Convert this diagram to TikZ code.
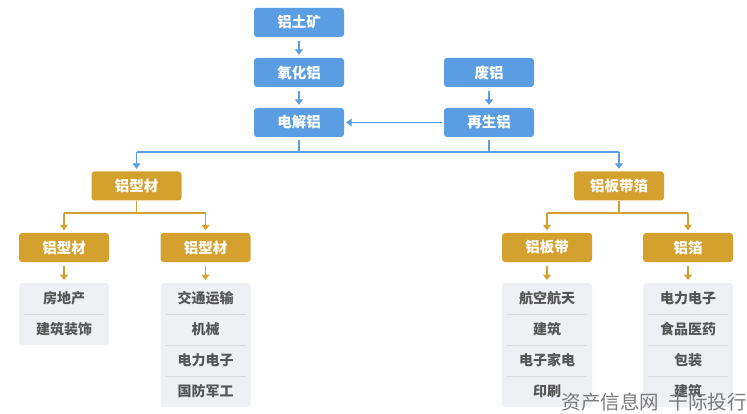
\documentclass[tikz,border=0pt]{standalone}
\usepackage{fontspec}
\setmainfont{Noto Sans CJK SC}
\usetikzlibrary{arrows.meta}
\definecolor{cblue}{HTML}{5A9DE2}
\definecolor{cgold}{HTML}{D4A12F}
\definecolor{cgray}{HTML}{EEF0F4}
\definecolor{csep}{HTML}{D9DCE2}
\definecolor{ctext}{HTML}{555555}
\definecolor{cwm}{HTML}{7A7A7A}
\begin{document}
\begin{tikzpicture}[x=1pt,y=-1pt,
  box/.style={rounded corners=3pt, minimum width=90pt, minimum height=29pt, inner sep=0pt, text=white, font=\bfseries\fontsize{14.5}{14.5}\selectfont},
  bluebox/.style={box, fill=cblue},
  goldbox/.style={box, fill=cgold},
  listbox/.style={fill=cgray, rounded corners=3pt, inner sep=0pt, minimum width=90pt},
  item/.style={text=ctext, font=\bfseries\fontsize{14}{14}\selectfont, inner sep=0pt},
  sep/.style={draw=csep, line width=0.6pt},
  bline/.style={draw=cblue, line width=1.7pt},
  gline/.style={draw=cgold, line width=1.7pt},
  tip/.style={-{Triangle[width=8pt,length=5.5pt]}}
]
\useasboundingbox (0,0) rectangle (747,414);

% blue nodes
\node[bluebox] (bx) at (299,22.5) {铝土矿};
\node[bluebox] (ox) at (299,72.5) {氧化铝};
\node[bluebox] (el) at (299,122.5) {电解铝};
\node[bluebox] (fe) at (489,72.5) {废铝};
\node[bluebox] (zs) at (489,122.5) {再生铝};

\draw[bline,tip,shorten <=4pt,shorten >=3pt] (bx) -- (ox);
\draw[bline,tip,shorten <=4pt,shorten >=3pt] (ox) -- (el);
\draw[bline,tip,shorten <=4pt,shorten >=3pt] (fe) -- (zs);
\draw[bline,tip,shorten <=2pt,shorten >=2pt] (zs) -- (el);

% gold level 1
\node[goldbox] (xc) at (136.5,186) {铝型材};
\node[goldbox] (bd) at (619,186) {铝板带箔};

\coordinate (jl) at (136.5,152);
\coordinate (jr) at (619,152);
\draw[bline] (el.south) ++(0,3) -- (299,152);
\draw[bline] (zs.south) ++(0,3) -- (489,152);
\draw[bline] (jl) -- (jr);
\draw[bline,tip,shorten >=2.5pt] (jl) -- (xc);
\draw[bline,tip,shorten >=2.5pt] (jr) -- (bd);

% gold level 2
\node[goldbox] (xa) at (64,247.5) {铝型材};
\node[goldbox] (xb) at (205.5,247.5) {铝型材};
\node[goldbox] (ba) at (547,247.5) {铝板带};
\node[goldbox] (bb) at (688,247.5) {铝箔};

\coordinate (kl) at (136.5,213);
\coordinate (kla) at (64,213);
\coordinate (klb) at (205.5,213);
\coordinate (kr) at (619,213);
\coordinate (kra) at (547,213);
\coordinate (krb) at (688,213);
\draw[gline] (xc) -- (kl);
\draw[gline] (kla) -- (klb);
\draw[gline,tip,shorten >=2.5pt] (kla) -- (xa);
\draw[gline,tip,shorten >=2.5pt] (klb) -- (xb);
\draw[gline] (bd) -- (kr);
\draw[gline] (kra) -- (krb);
\draw[gline,tip,shorten >=2.5pt] (kra) -- (ba);
\draw[gline,tip,shorten >=2.5pt] (krb) -- (bb);

% lists
\node[listbox, minimum height=62pt, anchor=north] (la) at (64,283) {};
\node[listbox, minimum height=124pt, anchor=north] (lb) at (205.5,283) {};
\node[listbox, minimum height=124pt, anchor=north] (lc) at (547,283) {};
\node[listbox, minimum height=124pt, anchor=north] (ld) at (688,283) {};

\draw[gline,tip,shorten <=4pt,shorten >=3pt] (xa) -- (la);
\draw[gline,tip,shorten <=4pt,shorten >=3pt] (xb) -- (lb);
\draw[gline,tip,shorten <=4pt,shorten >=3pt] (ba) -- (lc);
\draw[gline,tip,shorten <=4pt,shorten >=3pt] (bb) -- (ld);

\node[item] (a1) at (64,298.5) {房地产};
\node[item] (a2) at (64,329.5) {建筑装饰};
\draw[sep] (24,314) -- (104,314);

\node[item] (b1) at (205.5,298.5) {交通运输};
\node[item] (b2) at (205.5,329.5) {机械};
\node[item] (b3) at (205.5,360.5) {电力电子};
\node[item] (b4) at (205.5,391.5) {国防军工};

\node[item] (c1) at (547,298.5) {航空航天};
\node[item] (c2) at (547,329.5) {建筑};
\node[item] (c3) at (547,360.5) {电子家电};
\node[item] (c4) at (547,391.5) {印刷};

\node[item] (d1) at (688,298.5) {电力电子};
\node[item] (d2) at (688,329.5) {食品医药};
\node[item] (d3) at (688,360.5) {包装};
\node[item] (d4) at (688,391.5) {建筑};

\foreach \cx in {205.5,547,688}{
  \foreach \yy in {314,345,376}{
    \draw[sep] (\cx-40,\yy) -- (\cx+40,\yy);
  }
}

% watermark
\node[anchor=east, text=cwm, font=\fontsize{19.5}{19.5}\selectfont, inner sep=0pt] (wm) at (747,402) {资产信息网\hspace{0.5em}千际投行};
\end{tikzpicture}
\end{document}
